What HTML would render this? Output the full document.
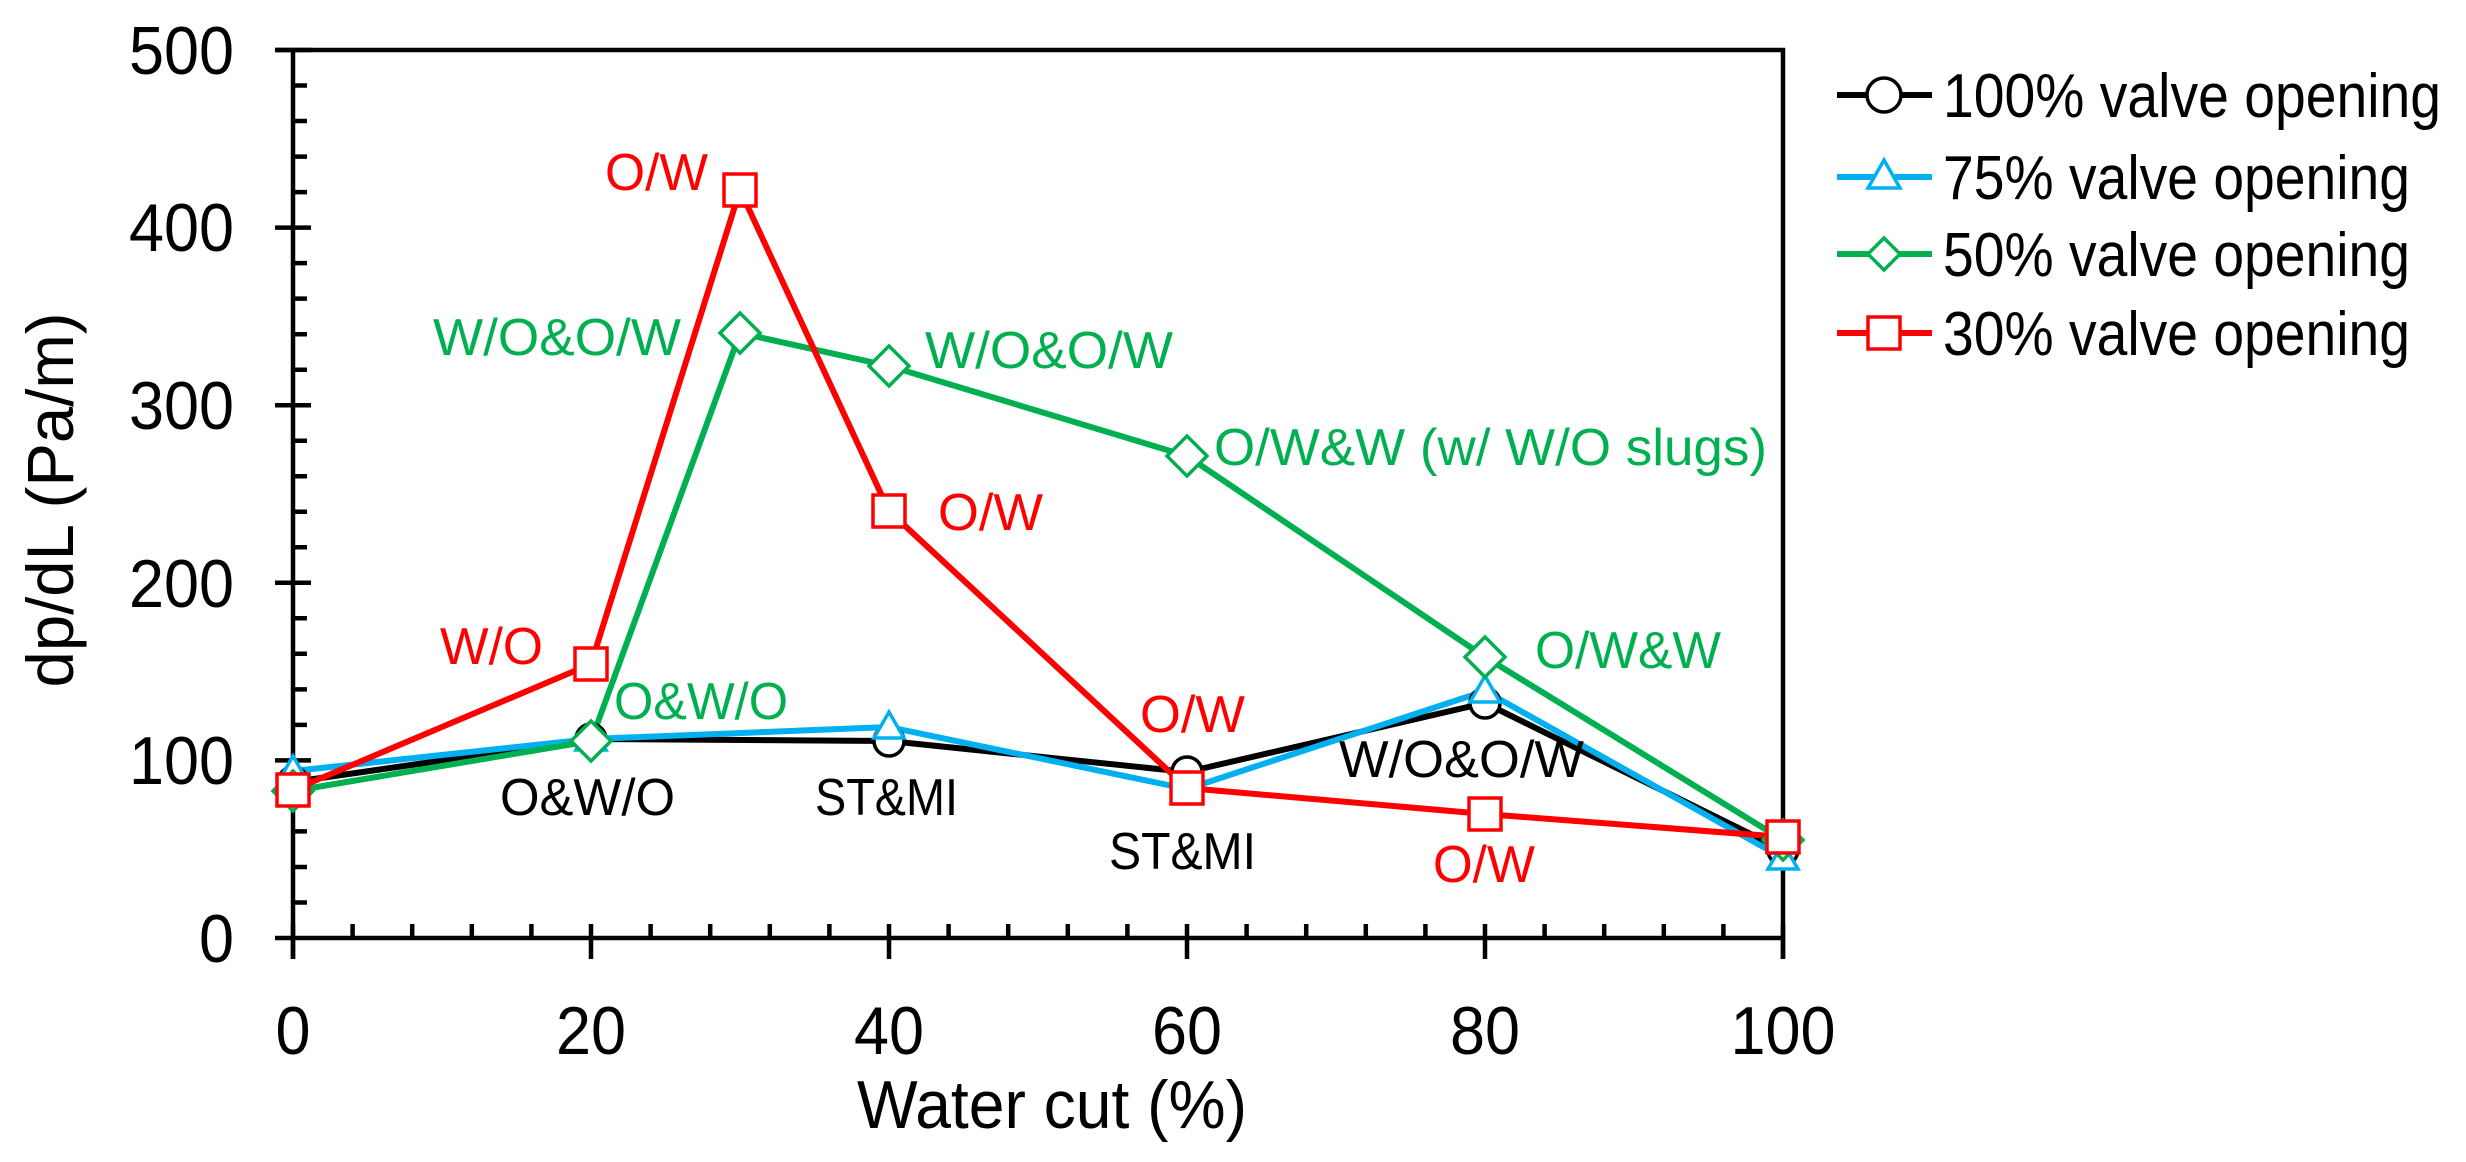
<!DOCTYPE html>
<html><head><meta charset="utf-8"><style>
html,body{margin:0;padding:0;background:#fff;}
svg{display:block;}
text{font-family:"Liberation Sans",Arial,sans-serif;}
</style></head><body>
<svg width="2466" height="1162" viewBox="0 0 2466 1162" xmlns="http://www.w3.org/2000/svg">
<rect width="2466" height="1162" fill="#fff"/>
<g stroke="#000" stroke-width="4.5" fill="none">
<line x1="275" y1="50" x2="1785" y2="50"/>
<line x1="1783" y1="48" x2="1783" y2="959"/>
<line x1="293" y1="48" x2="293" y2="959"/>
<line x1="275" y1="938" x2="1785" y2="938"/>
<line x1="275" y1="50" x2="311" y2="50"/>
<line x1="275" y1="227.6" x2="311" y2="227.6"/>
<line x1="275" y1="405.2" x2="311" y2="405.2"/>
<line x1="275" y1="582.8" x2="311" y2="582.8"/>
<line x1="275" y1="760.4" x2="311" y2="760.4"/>
<path d="M293 85.5h14M293 121h14M293 156.6h14M293 192.1h14M293 263.1h14M293 298.6h14M293 334.2h14M293 369.7h14M293 440.7h14M293 476.2h14M293 511.8h14M293 547.3h14M293 618.3h14M293 653.8h14M293 689.4h14M293 724.9h14M293 795.9h14M293 831.4h14M293 867h14M293 902.5h14"/>
<path d="M293 924v35M591 924v35M889 924v35M1187 924v35M1485 924v35M1783 924v35"/>
<path d="M352.6 938v-14M412.2 938v-14M471.8 938v-14M531.4 938v-14M650.6 938v-14M710.2 938v-14M769.8 938v-14M829.4 938v-14M948.6 938v-14M1008.2 938v-14M1067.8 938v-14M1127.4 938v-14M1246.6 938v-14M1306.2 938v-14M1365.8 938v-14M1425.4 938v-14M1544.6 938v-14M1604.2 938v-14M1663.8 938v-14M1723.4 938v-14"/>
</g>
<g font-size="68" text-anchor="end" fill="#000">
<text x="234" y="74" textLength="105" lengthAdjust="spacingAndGlyphs">500</text>
<text x="234" y="251" textLength="105" lengthAdjust="spacingAndGlyphs">400</text>
<text x="234" y="429" textLength="105" lengthAdjust="spacingAndGlyphs">300</text>
<text x="234" y="607" textLength="105" lengthAdjust="spacingAndGlyphs">200</text>
<text x="234" y="784" textLength="105" lengthAdjust="spacingAndGlyphs">100</text>
<text x="234" y="962" textLength="35" lengthAdjust="spacingAndGlyphs">0</text>
</g>
<g font-size="68" text-anchor="middle" fill="#000">
<text x="293" y="1054" textLength="35" lengthAdjust="spacingAndGlyphs">0</text>
<text x="591" y="1054" textLength="70" lengthAdjust="spacingAndGlyphs">20</text>
<text x="889" y="1054" textLength="70" lengthAdjust="spacingAndGlyphs">40</text>
<text x="1187" y="1054" textLength="70" lengthAdjust="spacingAndGlyphs">60</text>
<text x="1485" y="1054" textLength="70" lengthAdjust="spacingAndGlyphs">80</text>
<text x="1783" y="1054" textLength="105" lengthAdjust="spacingAndGlyphs">100</text>
</g>
<text x="1052" y="1128" font-size="68" text-anchor="middle" textLength="390" lengthAdjust="spacingAndGlyphs">Water cut (%)</text>
<text transform="translate(73,500) rotate(-90)" font-size="66" text-anchor="middle" textLength="375" lengthAdjust="spacingAndGlyphs">dp/dL (Pa/m)</text>

<g fill="none" stroke-linejoin="round" stroke-width="6">
<polyline stroke="#000" points="293,782 591,739 889,741 1187,772 1485,703 1783,850"/>
<polyline stroke="#00b0f0" points="293,771 591,739 889,727 1187,789 1485,691 1783,858"/>
<polyline stroke="#00b050" points="293,791 591,741 740,333 889,366 1187,456 1485,657 1783,840"/>
<polyline stroke="#ff0000" points="293,790 591,664 740,190 889,511 1187,788 1485,814 1783,837"/>
</g>
<g fill="#fff" stroke="#000" stroke-width="3.5">
<circle cx="293" cy="782" r="15"/><circle cx="591" cy="739" r="15"/><circle cx="889" cy="741" r="15"/><circle cx="1187" cy="772" r="15"/><circle cx="1485" cy="703" r="15"/><circle cx="1783" cy="850" r="15"/>
</g>
<g fill="#fff" stroke="#00b0f0" stroke-width="3.5">
<path d="M293 756l15 26h-30z"/><path d="M591 724l15 26h-30z"/><path d="M889 712l15 26h-30z"/><path d="M1187 774l15 26h-30z"/><path d="M1485 676l15 26h-30z"/><path d="M1783 843l15 26h-30z"/>
</g>
<g fill="#fff" stroke="#00b050" stroke-width="3.5">
<path d="M293 771l20 20l-20 20l-20 -20z"/><path d="M591 721l20 20l-20 20l-20 -20z"/><path d="M740 313l20 20l-20 20l-20 -20z"/><path d="M889 346l20 20l-20 20l-20 -20z"/><path d="M1187 436l20 20l-20 20l-20 -20z"/><path d="M1485 637l20 20l-20 20l-20 -20z"/><path d="M1783 820l20 20l-20 20l-20 -20z"/>
</g>
<g fill="#fff" stroke="#ff0000" stroke-width="3.5">
<rect x="277" y="774" width="32" height="32"/><rect x="575" y="648" width="32" height="32"/><rect x="724" y="174" width="32" height="32"/><rect x="873" y="495" width="32" height="32"/><rect x="1171" y="772" width="32" height="32"/><rect x="1469" y="798" width="32" height="32"/><rect x="1767" y="821" width="32" height="32"/>
</g>

<g font-size="52">
<text x="605" y="190" fill="#ff0000" textLength="103" lengthAdjust="spacingAndGlyphs">O/W</text>
<text x="433" y="355" fill="#00b050" textLength="248" lengthAdjust="spacingAndGlyphs">W/O&amp;O/W</text>
<text x="925" y="368" fill="#00b050" textLength="248" lengthAdjust="spacingAndGlyphs">W/O&amp;O/W</text>
<text x="1214" y="465" fill="#00b050" textLength="553" lengthAdjust="spacingAndGlyphs">O/W&amp;W (w/ W/O slugs)</text>
<text x="938" y="530" fill="#ff0000" textLength="105" lengthAdjust="spacingAndGlyphs">O/W</text>
<text x="440" y="664" fill="#ff0000" textLength="103" lengthAdjust="spacingAndGlyphs">W/O</text>
<text x="614" y="719" fill="#00b050" textLength="174" lengthAdjust="spacingAndGlyphs">O&amp;W/O</text>
<text x="1535" y="668" fill="#00b050" textLength="186" lengthAdjust="spacingAndGlyphs">O/W&amp;W</text>
<text x="1140" y="732" fill="#ff0000" textLength="105" lengthAdjust="spacingAndGlyphs">O/W</text>
<text x="1339" y="777" fill="#000" textLength="245" lengthAdjust="spacingAndGlyphs">W/O&amp;O/W</text>
<text x="500" y="815" fill="#000" textLength="175" lengthAdjust="spacingAndGlyphs">O&amp;W/O</text>
<text x="815" y="815" fill="#000" textLength="143" lengthAdjust="spacingAndGlyphs">ST&amp;MI</text>
<text x="1109" y="869" fill="#000" textLength="147" lengthAdjust="spacingAndGlyphs">ST&amp;MI</text>
<text x="1433" y="882" fill="#ff0000" textLength="102" lengthAdjust="spacingAndGlyphs">O/W</text>
</g>

<g stroke-width="6" fill="#fff">
<line x1="1837" y1="95" x2="1932" y2="95" stroke="#000"/>
<circle cx="1884" cy="95" r="17" stroke="#000" stroke-width="3.5"/>
<line x1="1837" y1="177" x2="1932" y2="177" stroke="#00b0f0"/>
<path d="M1884 160l16 28h-32z" stroke="#00b0f0" stroke-width="3.5"/>
<line x1="1837" y1="254" x2="1932" y2="254" stroke="#00b050"/>
<path d="M1884 238l16 16l-16 16l-16 -16z" stroke="#00b050" stroke-width="3.5"/>
<line x1="1837" y1="333" x2="1932" y2="333" stroke="#ff0000"/>
<rect x="1868" y="317" width="32" height="32" stroke="#ff0000" stroke-width="3.5"/>
</g>
<g font-size="62" fill="#000">
<text x="1943" y="117" textLength="498" lengthAdjust="spacingAndGlyphs">100% valve opening</text>
<text x="1943" y="199" textLength="467" lengthAdjust="spacingAndGlyphs">75% valve opening</text>
<text x="1943" y="276" textLength="467" lengthAdjust="spacingAndGlyphs">50% valve opening</text>
<text x="1943" y="355" textLength="467" lengthAdjust="spacingAndGlyphs">30% valve opening</text>
</g>
</svg>
</body></html>
